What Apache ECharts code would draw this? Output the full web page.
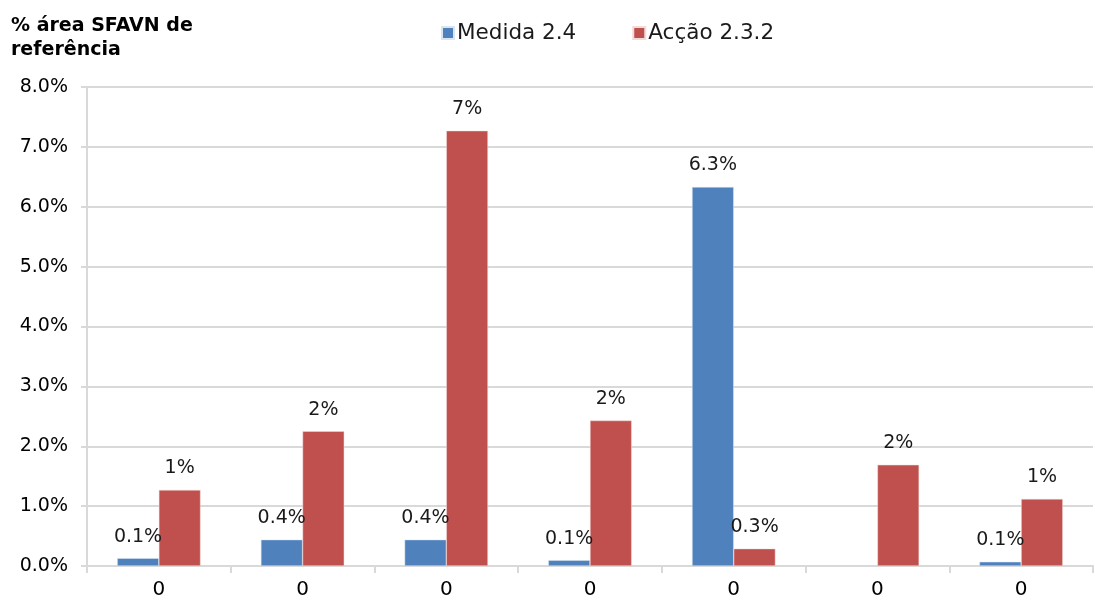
<!DOCTYPE html>
<html>
<head>
<meta charset="utf-8">
<script src="https://cdn.jsdelivr.net/npm/echarts@6/dist/echarts.min.js"></script>
<style>
  html, body { margin: 0; padding: 0; background: #fff; }
  #chart { width: 1095px; height: 603px; }
</style>
</head>
<body>
<div id="chart"></div>
<script>
// categorias (todas aparecem como "0" no original)
const categories = ['0', '0', '0', '0', '0', '0', '0']
const medida24 = [0.13, 0.44, 0.44, 0.095, 6.33, null, 0.07]
const accao232 = [1.27, 2.25, 7.27, 2.43, 0.29, 1.69, 1.12]
const yTicks = [0, 1, 2, 3, 4, 5, 6, 7, 8]

const font = 'Verdana, "DejaVu Sans", sans-serif'
const chart = echarts.init(document.getElementById('chart'))

const barLabel = (fmt) => ({
  show: true,
  position: 'top',
  distance: 12,
  color: '#1a1a1a',
  fontFamily: font,
  fontSize: 19,
  formatter: (p) => p.value == null ? '' : fmt(p.value)
})

chart.setOption({
  animation: false,
  title: {
    text: '% área SFAVN de\nreferência',
    left: 6,
    top: 9,
    textStyle: { fontFamily: font, fontSize: 19, fontWeight: 'bold', color: '#000', lineHeight: 24 }
  },
  legend: {
    top: 17,
    left: 436,
    itemWidth: 12,
    itemHeight: 12,
    itemGap: 56,
    icon: 'rect',
    textStyle: { fontFamily: font, fontSize: 21.5, color: '#1a1a1a', padding: [0, 0, 0, -2] },
    data: ['Medida 2.4', 'Acção 2.3.2']
  },
  grid: { left: 87, right: 2, top: 87, bottom: 37 },
  xAxis: {
    type: 'category',
    data: categories,
    axisLine: { lineStyle: { color: '#d9d9d9', width: 2 } },
    axisTick: { show: true, length: 7, lineStyle: { color: '#d9d9d9', width: 2 } },
    axisLabel: { fontFamily: font, fontSize: 20, color: '#000', margin: 14 }
  },
  yAxis: {
    type: 'value',
    min: yTicks[0],
    max: yTicks[yTicks.length - 1],
    interval: 1,
    axisLine: { show: true, lineStyle: { color: '#d9d9d9', width: 2 } },
    axisTick: { show: true, length: 6, lineStyle: { color: '#d9d9d9', width: 2 } },
    splitLine: { lineStyle: { color: '#d9d9d9', width: 2 } },
    axisLabel: {
      fontFamily: font, fontSize: 19, color: '#000', margin: 19,
      formatter: (v) => v.toFixed(1) + '%'
    }
  },
  series: [
    {
      name: 'Medida 2.4',
      type: 'bar',
      data: medida24,
      barGap: '0%',
      barCategoryGap: '42%',
      itemStyle: { color: '#4F81BD', borderColor: '#dbe5f1', borderWidth: 0.5 },
      label: barLabel((v) => v.toFixed(1) + '%')
    },
    {
      name: 'Acção 2.3.2',
      type: 'bar',
      data: accao232,
      barGap: '0%',
      barCategoryGap: '42%',
      itemStyle: { color: '#C0504D', borderColor: '#f2dcdb', borderWidth: 0.5 },
      label: barLabel((v) => (v < 1 ? v.toFixed(1) : v.toFixed(0)) + '%')
    }
  ]
})
</script>
</body>
</html>
